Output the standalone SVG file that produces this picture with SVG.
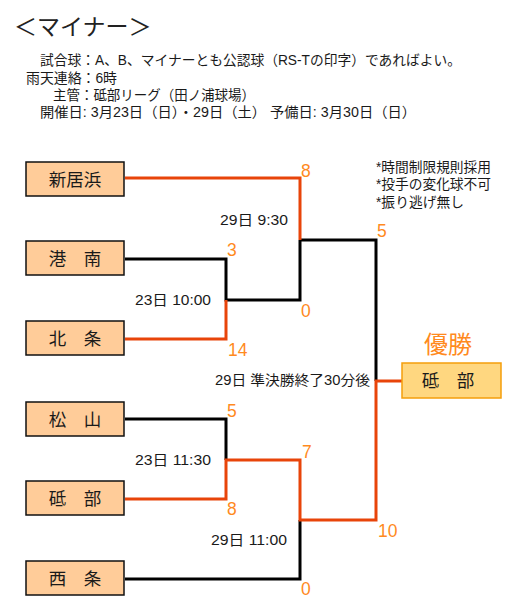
<svg xmlns="http://www.w3.org/2000/svg" width="525" height="600" viewBox="0 0 525 600">
<style>
text{font-family:"Liberation Sans","Noto Sans CJK JP",sans-serif;fill:#1a1a1a}
.title{font-size:23px;fill:#222}
.hdr{font-size:14px}
.note{font-size:14px}
.time{font-size:14px}
.score{font-size:17.5px;fill:#FF8A1E}
.win{font-size:24px;fill:#FF8A1E}
.name{font-size:17.5px;text-anchor:middle}
.team rect{fill:#FFCC99;stroke:#111;stroke-width:1.5}
.champ rect{fill:#FFD780;stroke:#F59E0B;stroke-width:1.5}
.lb{fill:none;stroke:#000;stroke-width:3;stroke-linejoin:miter}
.lo{fill:none;stroke:#E8440A;stroke-width:3;stroke-linejoin:miter}
</style>
<rect width="525" height="600" fill="#fff"/>
<text class="title" x="14" y="35">＜マイナー＞</text>
<g id="header">
<text class="hdr"><tspan x="40" y="65" textLength="421" lengthAdjust="spacingAndGlyphs">試合球：A、B、マイナーとも公認球（RS-Tの印字）であればよい。</tspan><tspan x="26" y="83" textLength="91" lengthAdjust="spacingAndGlyphs">雨天連絡：6時</tspan><tspan x="53" y="100" textLength="202" lengthAdjust="spacingAndGlyphs">主管：砥部リーグ（田ノ浦球場）</tspan><tspan x="40" y="117" textLength="376" lengthAdjust="spacingAndGlyphs">開催日: 3月23日（日）・29日（土） 予備日: 3月30日（日）</tspan></text>
</g>
<g id="notes">
<text class="note"><tspan x="376" y="172" textLength="115" lengthAdjust="spacingAndGlyphs">*時間制限規則採用</tspan><tspan x="376" y="189" textLength="115" lengthAdjust="spacingAndGlyphs">*投手の変化球不可</tspan><tspan x="376" y="207" textLength="88" lengthAdjust="spacingAndGlyphs">*振り逃げ無し</tspan></text>
</g>
<g id="connectors">
<path class="lb" d="M300,240 V300 H226 V259 H125"/>
<path class="lb" d="M300,240 H376 V381"/>
<path class="lb" d="M125,419 H226 V460"/>
<path class="lb" d="M300,520 V579 H125"/>
<path class="lo" d="M125,178 H300 V240"/>
<path class="lo" d="M125,339 H226 V300"/>
<path class="lo" d="M402,381 H376 V520 H300 V460 H226 V499 H125"/>
</g>
<g id="labels">
<text class="time" x="220" y="225" textLength="68" lengthAdjust="spacingAndGlyphs">29日 9:30</text>
<text class="time" x="135" y="305" textLength="76" lengthAdjust="spacingAndGlyphs">23日 10:00</text>
<text class="time" x="215" y="385" textLength="155" lengthAdjust="spacingAndGlyphs">29日 準決勝終了30分後</text>
<text class="time" x="135" y="465" textLength="76" lengthAdjust="spacingAndGlyphs">23日 11:30</text>
<text class="time" x="211" y="545" textLength="76" lengthAdjust="spacingAndGlyphs">29日 11:00</text>
</g>
<g id="scores">
<text class="score" x="301" y="177">8</text>
<text class="score" x="227" y="256">3</text>
<text class="score" x="301" y="317">0</text>
<text class="score" x="228" y="356">14</text>
<text class="score" x="377" y="237">5</text>
<text class="score" x="227" y="417">5</text>
<text class="score" x="302" y="458">7</text>
<text class="score" x="227" y="515">8</text>
<text class="score" x="378" y="537">10</text>
<text class="score" x="301" y="595">0</text>
</g>
<g id="t-niihama" class="team"><rect x="26" y="162" width="98" height="34"/><text class="name" x="75" y="185.5">新居浜</text></g>
<g id="t-kounan" class="team"><rect x="26" y="241" width="98" height="34"/><text class="name" x="75" y="265">港　南</text></g>
<g id="t-houjou" class="team"><rect x="26" y="321" width="98" height="34"/><text class="name" x="75" y="345">北　条</text></g>
<g id="t-matsuyama" class="team"><rect x="26" y="402" width="98" height="34"/><text class="name" x="75" y="425.5">松　山</text></g>
<g id="t-tobe" class="team"><rect x="26" y="481" width="98" height="34"/><text class="name" x="75" y="505">砥　部</text></g>
<g id="t-saijou" class="team"><rect x="26" y="561" width="98" height="34"/><text class="name" x="75" y="585">西　条</text></g>
<text class="win" x="424" y="353">優勝</text>
<g id="champion" class="champ"><rect x="402" y="363" width="99" height="35"/><text class="name" x="448" y="386.5">砥　部</text></g>
</svg>
